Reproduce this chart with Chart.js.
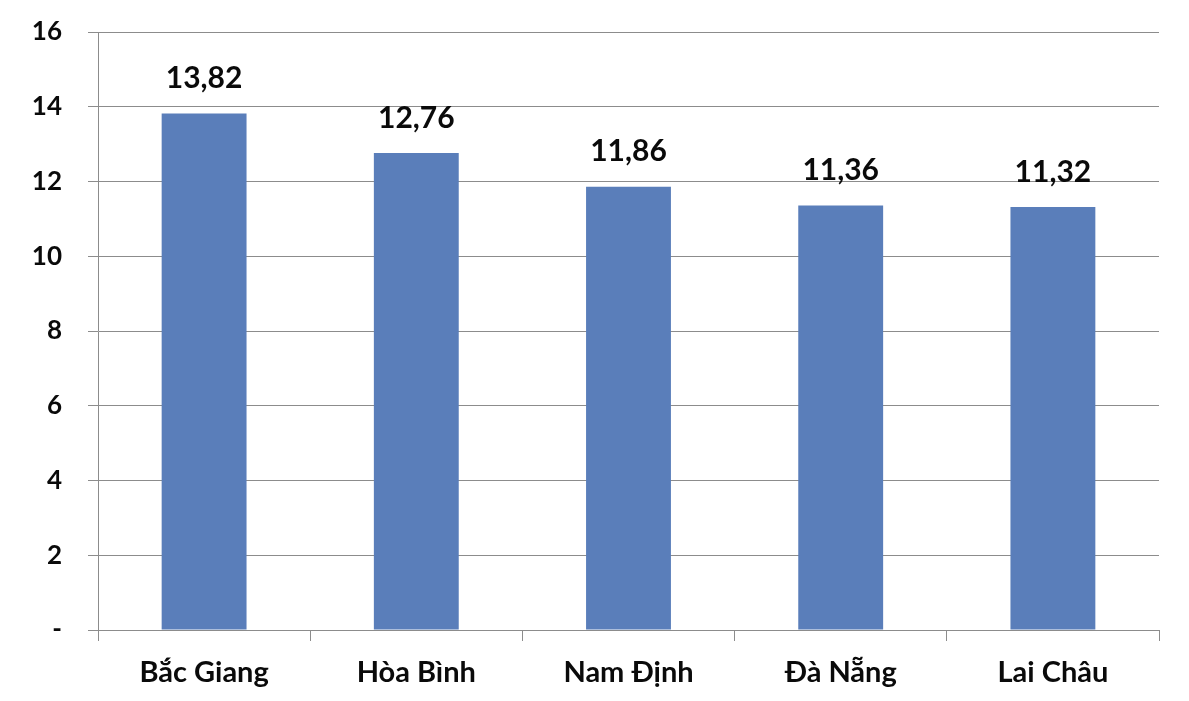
<!DOCTYPE html>
<html>
<head>
<meta charset="utf-8">
<script src="https://cdn.jsdelivr.net/npm/chart.js@4.4.1/dist/chart.umd.min.js"></script>
<style>
    body { margin: 0; background: #ffffff; }
    #wrap { width: 1189px; height: 701px; position: relative; }
</style>
</head>
<body>
<div id="wrap"><canvas id="chart"></canvas></div>
<script>
// Data dari gambar
const tinh = ['Bắc Giang', 'Hòa Bình', 'Nam Định', 'Đà Nẵng', 'Lai Châu'];
const nilai = [13.82, 12.76, 11.86, 11.36, 11.32];
const yTicks = [0, 2, 4, 6, 8, 10, 12, 14, 16];

const textColor = '#0a0a0a';
const gridColor = '#8c8c8c';
const barColor = '#5a7eba';
const fontFamily = 'Lato, "Open Sans", sans-serif';

// Plugin sederhana untuk label nilai di atas batang
const labelPlugin = {
    id: 'barLabels',
    afterDatasetsDraw(chart) {
        const ctx = chart.ctx;
        const meta = chart.getDatasetMeta(0);
        ctx.save();
        ctx.font = `bold 30px ${fontFamily}`;
        ctx.fillStyle = textColor;
        ctx.textAlign = 'center';
        ctx.textBaseline = 'middle';
        meta.data.forEach((bar, i) => {
            const teks = nilai[i].toFixed(2).replace('.', ',');
            ctx.fillText(teks, bar.x, bar.y - 35);
        });
        ctx.restore();
    }
};

const ctx = document.getElementById('chart').getContext('2d');
new Chart(ctx, {
    type: 'bar',
    data: {
        labels: tinh,
        datasets: [{
            data: nilai,
            backgroundColor: barColor,
            borderWidth: 0,
            barPercentage: 0.4,
            categoryPercentage: 1.0
        }]
    },
    options: {
        responsive: true,
        maintainAspectRatio: false,
        animation: false,
        layout: { padding: { top: 32, right: 30, left: 0, bottom: 0 } },
        plugins: {
            legend: { display: false },
            tooltip: { enabled: false }
        },
        scales: {
            y: {
                min: 0,
                max: 16,
                afterFit(scale) {
                    scale.width = 98;
                    scale.paddingTop = 0;
                    scale.paddingBottom = 0;
                },
                afterBuildTicks(scale) {
                    scale.ticks = yTicks.map(v => ({ value: v }));
                },
                border: { color: gridColor, width: 1 },
                grid: { color: gridColor, lineWidth: 1, tickLength: 10 },
                ticks: {
                    padding: 26,
                    color: textColor,
                    font: { family: fontFamily, size: 26, weight: 'bold' },
                    callback: v => (v === 0 ? '-' : v)
                }
            },
            x: {
                afterFit(scale) { scale.height = 71; },
                border: { color: gridColor, width: 1 },
                grid: {
                    color: gridColor,
                    drawOnChartArea: false,
                    drawTicks: true,
                    tickLength: 11,
                    offset: true
                },
                ticks: {
                    padding: 14,
                    color: textColor,
                    font: { family: fontFamily, size: 29, weight: 'bold' }
                }
            }
        }
    },
    plugins: [labelPlugin]
});
</script>
</body>
</html>
